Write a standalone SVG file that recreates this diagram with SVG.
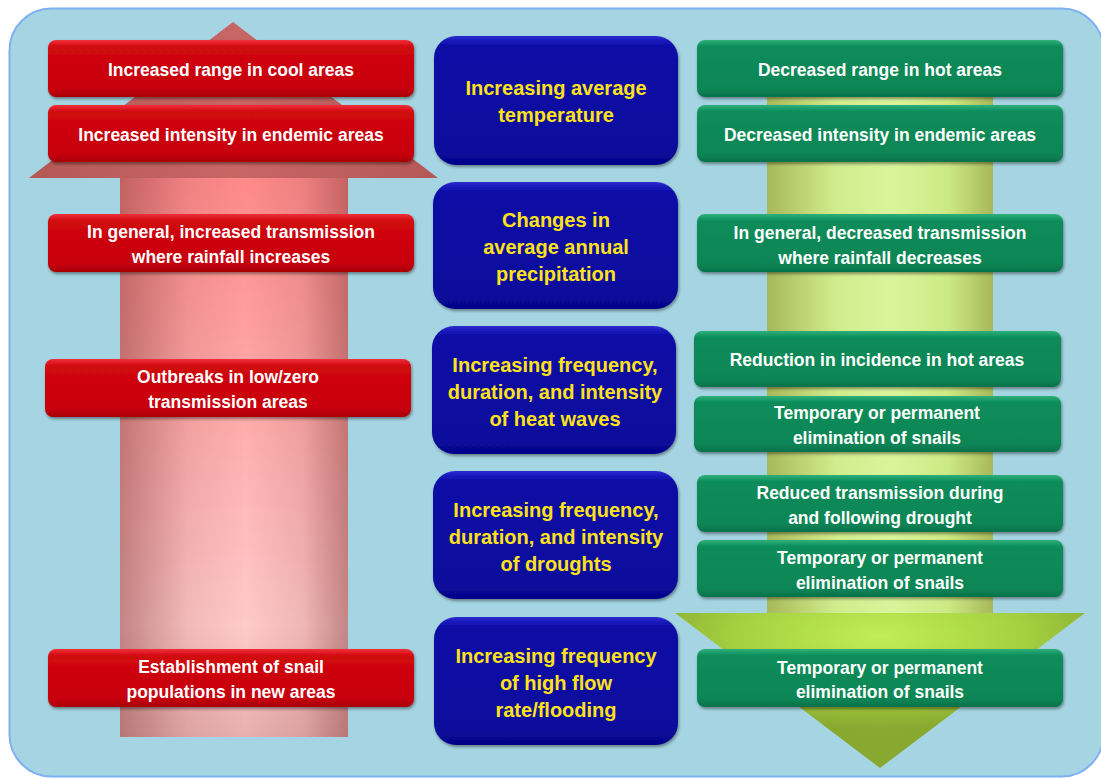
<svg xmlns="http://www.w3.org/2000/svg" width="1101" height="778" viewBox="0 0 1101 778">
<defs>
<linearGradient id="redFill" x1="0" y1="0" x2="0" y2="1">
<stop offset="0" stop-color="#f2303a"/><stop offset="0.12" stop-color="#d00810"/><stop offset="0.85" stop-color="#c80008"/><stop offset="1" stop-color="#a80006"/>
</linearGradient>
<linearGradient id="blueFill" x1="0" y1="0" x2="0" y2="1">
<stop offset="0" stop-color="#2a2ad0"/><stop offset="0.08" stop-color="#0a0aa6"/><stop offset="0.9" stop-color="#08089c"/><stop offset="1" stop-color="#050586"/>
</linearGradient>
<linearGradient id="greenFill" x1="0" y1="0" x2="0" y2="1">
<stop offset="0" stop-color="#30b07a"/><stop offset="0.12" stop-color="#0a8c5a"/><stop offset="0.85" stop-color="#088656"/><stop offset="1" stop-color="#06724a"/>
</linearGradient>
<linearGradient id="redShaft" x1="0" y1="0" x2="0" y2="1">
<stop offset="0" stop-color="#ff8a8a"/><stop offset="0.8" stop-color="#ffcaca"/><stop offset="1" stop-color="#e8b0b0"/>
</linearGradient>
<linearGradient id="edgeShade" x1="0" y1="0" x2="1" y2="0">
<stop offset="0" stop-color="#7a3030" stop-opacity="0.45"/><stop offset="0.3" stop-color="#7a3030" stop-opacity="0.1"/><stop offset="0.55" stop-color="#7a3030" stop-opacity="0"/><stop offset="0.8" stop-color="#7a3030" stop-opacity="0.12"/><stop offset="1" stop-color="#7a3030" stop-opacity="0.45"/>
</linearGradient>
<linearGradient id="redHead" x1="0" y1="0" x2="1" y2="0">
<stop offset="0" stop-color="#b45856"/><stop offset="0.5" stop-color="#c86664"/><stop offset="1" stop-color="#b45856"/>
</linearGradient>
<linearGradient id="greenShaft" x1="0" y1="0" x2="1" y2="0">
<stop offset="0" stop-color="#a8b85a"/><stop offset="0.3" stop-color="#d0ec8c"/><stop offset="0.55" stop-color="#daf49c"/><stop offset="0.8" stop-color="#ccea84"/><stop offset="1" stop-color="#a8b85a"/>
</linearGradient>
<radialGradient id="greenHead" cx="0.5" cy="0.15" r="0.6">
<stop offset="0" stop-color="#c0ee58"/><stop offset="0.6" stop-color="#a4d040"/><stop offset="1" stop-color="#88a830"/>
</radialGradient>
<filter id="sh" x="-10%" y="-20%" width="120%" height="150%">
<feDropShadow dx="1" dy="2" stdDeviation="1.5" flood-color="#000" flood-opacity="0.4"/>
</filter>
<style>
.red{fill:url(#redFill);filter:url(#sh)}
.blue{fill:url(#blueFill);filter:url(#sh)}
.green{fill:url(#greenFill);filter:url(#sh)}
.wt{font-family:"Liberation Sans",Arial,sans-serif;font-weight:bold;font-size:17.5px;fill:#ffffff;text-anchor:middle}
.yt{font-family:"Liberation Sans",Arial,sans-serif;font-weight:bold;font-size:20px;fill:#ffe21a;text-anchor:middle}
</style>
</defs>

<rect x="9.5" y="8.5" width="1094" height="768" rx="42" fill="#a5d5e2" stroke="#7fb0f2" stroke-width="2"/>

<g id="arrow-up">
<polygon points="233,22 438,178 29,178" fill="url(#redHead)"/>
<rect x="120" y="178" width="228" height="559" fill="url(#redShaft)"/>
<rect x="120" y="178" width="228" height="559" fill="url(#edgeShade)"/>
</g>
<g id="arrow-down">
<rect x="767" y="45" width="226" height="569" fill="url(#greenShaft)"/>
<polygon points="675,613 1085,613 880,768" fill="url(#greenHead)"/>
</g>

<g id="connectors"></g>

<g id="r1"><rect class="red" x="48" y="40" width="366" height="57" rx="8"/><text class="wt" x="231" y="76">Increased range in cool areas</text></g>
<g id="r2"><rect class="red" x="48" y="105" width="366" height="57" rx="8"/><text class="wt" x="231" y="141">Increased intensity in endemic areas</text></g>
<g id="r3"><rect class="red" x="48" y="214" width="366" height="58" rx="8"/><text class="wt" x="231" y="238">In general, increased transmission</text><text class="wt" x="231" y="263">where rainfall increases</text></g>
<g id="r4"><rect class="red" x="45" y="359" width="366" height="58" rx="8"/><text class="wt" x="228" y="383">Outbreaks in low/zero</text><text class="wt" x="228" y="408">transmission areas</text></g>
<g id="r5"><rect class="red" x="48" y="649" width="366" height="58" rx="8"/><text class="wt" x="231" y="673">Establishment of snail</text><text class="wt" x="231" y="698">populations in new areas</text></g>

<g id="b1"><rect class="blue" x="434" y="36" width="244" height="129" rx="22"/><text class="yt" x="556" y="95">Increasing average</text><text class="yt" x="556" y="122">temperature</text></g>
<g id="b2"><rect class="blue" x="433" y="182" width="245" height="127" rx="22"/><text class="yt" x="556" y="227">Changes in</text><text class="yt" x="556" y="254">average annual</text><text class="yt" x="556" y="281">precipitation</text></g>
<g id="b3"><rect class="blue" x="432" y="326" width="244" height="128" rx="22"/><text class="yt" x="555" y="372">Increasing frequency,</text><text class="yt" x="555" y="399">duration, and intensity</text><text class="yt" x="555" y="426">of heat waves</text></g>
<g id="b4"><rect class="blue" x="433" y="471" width="245" height="128" rx="22"/><text class="yt" x="556" y="517">Increasing frequency,</text><text class="yt" x="556" y="544">duration, and intensity</text><text class="yt" x="556" y="571">of droughts</text></g>
<g id="b5"><rect class="blue" x="434" y="617" width="244" height="128" rx="22"/><text class="yt" x="556" y="663">Increasing frequency</text><text class="yt" x="556" y="690">of high flow</text><text class="yt" x="556" y="717">rate/flooding</text></g>

<g id="g1"><rect class="green" x="697" y="40" width="366" height="57" rx="8"/><text class="wt" x="880" y="76">Decreased range in hot areas</text></g>
<g id="g2"><rect class="green" x="697" y="105" width="366" height="57" rx="8"/><text class="wt" x="880" y="141">Decreased intensity in endemic areas</text></g>
<g id="g3"><rect class="green" x="697" y="214" width="366" height="58" rx="8"/><text class="wt" x="880" y="239">In general, decreased transmission</text><text class="wt" x="880" y="264">where rainfall decreases</text></g>
<g id="g4"><rect class="green" x="694" y="331" width="367" height="56" rx="8"/><text class="wt" x="877" y="366">Reduction in incidence in hot areas</text></g>
<g id="g5"><rect class="green" x="694" y="396" width="367" height="56" rx="8"/><text class="wt" x="877" y="419">Temporary or permanent</text><text class="wt" x="877" y="444">elimination of snails</text></g>
<g id="g6"><rect class="green" x="697" y="475" width="366" height="57" rx="8"/><text class="wt" x="880" y="499">Reduced transmission during</text><text class="wt" x="880" y="524">and following drought</text></g>
<g id="g7"><rect class="green" x="697" y="540" width="366" height="57" rx="8"/><text class="wt" x="880" y="564">Temporary or permanent</text><text class="wt" x="880" y="589">elimination of snails</text></g>
<g id="g8"><rect class="green" x="697" y="649" width="366" height="58" rx="8"/><text class="wt" x="880" y="674">Temporary or permanent</text><text class="wt" x="880" y="698">elimination of snails</text></g>
</svg>
